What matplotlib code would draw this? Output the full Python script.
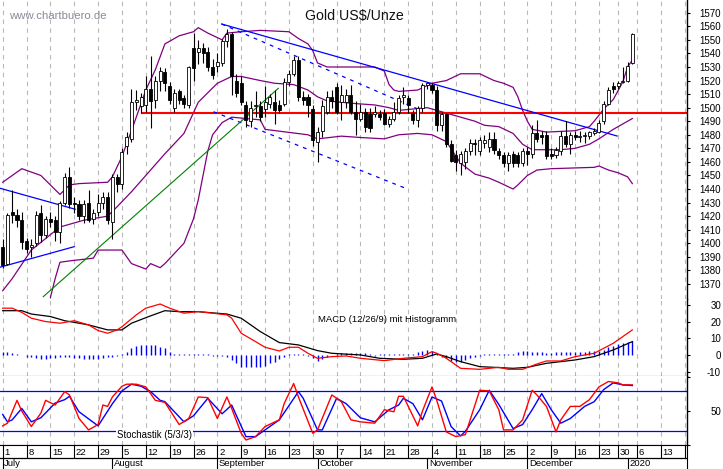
import numpy as np
import pandas as pd
import matplotlib

matplotlib.use("Agg")
import matplotlib.pyplot as plt

plt.rcParams["font.family"] = ["Liberation Sans", "DejaVu Sans"]

W, H = 723, 469
PURPLE = "#800080"
GRID_COLOR = "#b8b8b8"

# trading days shown (Dec 25 and Jan 1 are missing on the chart)
dates = pd.bdate_range("2019-07-01", "2020-01-03")
dates = dates.drop([pd.Timestamp("2019-12-25"), pd.Timestamp("2020-01-01")])

opens = [1397, 1385, 1423, 1421, 1417, 1402, 1397, 1400, 1422, 1406,
         1418, 1417, 1408, 1430, 1449, 1430, 1429, 1420, 1430, 1418,
         1423, 1430, 1434, 1416, 1449, 1444, 1472, 1477, 1504, 1501,
         1502, 1514, 1506, 1520, 1526, 1516, 1500, 1512, 1507, 1502,
         1544, 1541, 1544, 1541, 1530, 1531, 1533, 1549, 1554, 1520,
         1518, 1502, 1490, 1501, 1501, 1499, 1503, 1504, 1502, 1503,
         1519, 1525, 1535, 1508, 1508, 1499, 1475, 1483, 1497, 1508,
         1515, 1504, 1504, 1509, 1497, 1492, 1497, 1495, 1495, 1495,
         1496, 1488, 1492, 1497, 1508, 1507, 1496, 1491, 1500, 1517,
         1517, 1513, 1487, 1495, 1473, 1465, 1459, 1460, 1468, 1474,
         1468, 1474, 1471, 1477, 1468, 1465, 1459, 1466, 1465, 1459,
         1468, 1466, 1481, 1480, 1480, 1466, 1465, 1468, 1479, 1473,
         1480, 1478, 1479, 1479, 1481, 1482, 1490, 1503, 1516, 1516,
         1519, 1520, 1533]
highs = [1403, 1422, 1439, 1425, 1423, 1404, 1403, 1424, 1428, 1420,
         1423, 1420, 1431, 1452, 1456, 1434, 1432, 1432, 1439, 1425,
         1436, 1438, 1438, 1451, 1451, 1470, 1482, 1514, 1513, 1511,
         1523, 1538, 1523, 1530, 1529, 1519, 1514, 1514, 1509, 1531,
         1555, 1550, 1548, 1545, 1536, 1540, 1551, 1558, 1556, 1525,
         1523, 1505, 1505, 1512, 1505, 1516, 1510, 1513, 1506, 1522,
         1528, 1538, 1538, 1512, 1510, 1502, 1486, 1506, 1512, 1513,
         1518, 1517, 1514, 1517, 1505, 1503, 1500, 1500, 1501, 1498,
         1499, 1494, 1504, 1509, 1515, 1509, 1498, 1501, 1518, 1519,
         1518, 1516, 1497, 1496, 1476, 1469, 1468, 1470, 1477, 1477,
         1478, 1480, 1482, 1482, 1470, 1467, 1467, 1468, 1467, 1470,
         1471, 1487, 1491, 1483, 1483, 1470, 1471, 1483, 1490, 1482,
         1483, 1483, 1482, 1483, 1485, 1491, 1505, 1515, 1519, 1520,
         1530, 1534, 1555]
lows = [1382, 1384, 1415, 1412, 1396, 1393, 1390, 1398, 1401, 1404,
        1412, 1402, 1400, 1428, 1426, 1422, 1417, 1415, 1416, 1414,
        1420, 1425, 1414, 1403, 1438, 1440, 1466, 1475, 1498, 1496,
        1497, 1485, 1500, 1512, 1512, 1503, 1497, 1503, 1500, 1500,
        1520, 1532, 1533, 1527, 1521, 1526, 1531, 1545, 1509, 1508,
        1502, 1486, 1486, 1493, 1490, 1493, 1500, 1488, 1496, 1501,
        1516, 1523, 1505, 1502, 1493, 1472, 1460, 1478, 1495, 1500,
        1495, 1491, 1500, 1495, 1480, 1490, 1482, 1482, 1493, 1491,
        1487, 1486, 1490, 1495, 1503, 1496, 1488, 1486, 1497, 1514,
        1511, 1483, 1483, 1471, 1460, 1453, 1450, 1455, 1465, 1465,
        1465, 1470, 1467, 1466, 1462, 1456, 1453, 1456, 1456, 1457,
        1458, 1463, 1475, 1473, 1462, 1462, 1463, 1465, 1471, 1466,
        1476, 1475, 1474, 1477, 1480, 1481, 1488, 1502, 1511, 1514,
        1518, 1519, 1532]
closes = [1384, 1421, 1421, 1417, 1401, 1396, 1399, 1421, 1406, 1418,
          1416, 1408, 1430, 1449, 1429, 1429, 1420, 1429, 1417, 1422,
          1430, 1434, 1417, 1449, 1444, 1467, 1478, 1504, 1506, 1508,
          1514, 1505, 1520, 1527, 1518, 1506, 1511, 1506, 1503, 1530,
          1529, 1544, 1540, 1530, 1524, 1534, 1549, 1554, 1523, 1511,
          1504, 1491, 1500, 1502, 1493, 1504, 1508, 1498, 1498, 1519,
          1525, 1535, 1508, 1506, 1502, 1476, 1482, 1501, 1508, 1505,
          1497, 1509, 1509, 1497, 1492, 1497, 1486, 1485, 1497, 1493,
          1488, 1492, 1497, 1507, 1509, 1502, 1491, 1500, 1517, 1518,
          1513, 1487, 1495, 1473, 1461, 1460, 1466, 1468, 1474, 1473,
          1476, 1476, 1477, 1469, 1465, 1459, 1465, 1459, 1459, 1468,
          1466, 1481, 1477, 1478, 1464, 1464, 1469, 1479, 1473, 1480,
          1478, 1479, 1480, 1482, 1483, 1489, 1503, 1513, 1514, 1518,
          1520, 1531, 1554]

# Bollinger bands, read at day indices
bb_upper_day = [0, 4, 8, 10, 12, 14, 16, 22, 23, 25, 27, 30, 32, 34, 37, 40, 41, 43,
                46, 47, 50, 54, 60, 62, 64, 65, 66, 68, 78, 80, 81, 82, 83, 87, 90, 93,
                96, 100, 103, 105, 107, 108, 109, 110, 111, 114, 120, 123, 124, 126,
                128, 130, 131, 132]
bb_upper = [1445, 1455, 1450, 1443, 1436, 1443, 1444, 1445, 1449, 1464, 1483, 1513,
            1528, 1547, 1553, 1556, 1559, 1555, 1550, 1555, 1556, 1557, 1556, 1551,
            1547, 1542, 1533, 1530, 1530, 1527, 1517, 1513, 1512, 1513, 1518, 1520,
            1525, 1525, 1520, 1518, 1515, 1508, 1498, 1490, 1484, 1482, 1483, 1486,
            1490, 1499, 1506, 1519, 1530, 1535]
bb_mid_day = [0, 2, 6, 12, 17, 22, 24, 27, 31, 34, 38, 41, 45, 48, 50, 54, 57, 61, 64,
              66, 68, 74, 78, 81, 83, 86, 89, 92, 96, 99, 101, 104, 107, 109, 111, 117,
              120, 123, 125, 128, 132]
bb_mid = [1365, 1374, 1395, 1412, 1417, 1420, 1427, 1438, 1454, 1466, 1481, 1504,
          1518, 1523, 1523, 1520, 1518, 1517, 1513, 1508, 1505, 1503, 1502, 1500,
          1498, 1499, 1500, 1497, 1493, 1490, 1487, 1486, 1481, 1473, 1469, 1469,
          1470, 1473, 1477, 1484, 1492]
bb_lower_day = [10, 11, 12, 14, 19, 20, 25, 27, 30, 31, 33, 34, 38, 40, 41, 42, 43, 44,
                46, 48, 54, 55, 64, 66, 71, 75, 80, 83, 87, 90, 93, 96, 99, 102, 104,
                107, 108, 110, 112, 115, 124, 125, 127, 129, 131, 132]
bb_lower = [1360, 1374, 1386, 1387, 1389, 1395, 1395, 1385, 1381, 1385, 1382, 1385,
            1400, 1418, 1432, 1450, 1468, 1480, 1489, 1493, 1491, 1484, 1480, 1477,
            1479, 1478, 1477, 1480, 1481, 1480, 1475, 1459, 1451, 1448, 1445, 1440,
            1443, 1450, 1454, 1455, 1456, 1457, 1454, 1452, 1449, 1444]

# hand drawn lines: (day, price) at both ends
trend_solid = [((-0.6, 1440.6), (15.2, 1425.1)),
               ((-0.6, 1382.3), (15.0, 1397.5)),
               ((45.9, 1561.7), (128.8, 1479.1))]
trend_dashed = [((45.9, 1561.7), (87.5, 1498.3)),
                ((44.2, 1497.0), (85.0, 1439.8))]
trend_green = ((8.5, 1360.6), (57.8, 1514.3))
resistance = 1496.3
resistance_from = 29

# MACD (12/26/9)
macd_day = [0, 2, 4, 6, 9, 12, 15, 18, 20, 22, 24, 25, 28, 30, 33, 35, 38, 41, 44, 47,
            48, 50, 53, 55, 58, 60, 62, 64, 66, 69, 72, 75, 80, 84, 88, 90, 91, 93, 96,
            100, 104, 106, 109, 112, 114, 117, 120, 124, 126, 128, 130, 132]
macd = [28, 28, 25.5, 22, 20, 19, 20.5, 18, 14.6, 13, 15, 16.9, 24, 28, 30.5, 28, 25,
        26, 25, 24, 22, 13, 8, 4.6, 2.4, 4.6, 4.6, 1, -2, -1, -0.6, -2, -3.4, -2, -1, 2,
        1, -2, -8, -8.6, -7.4, -8.6, -8.6, -5.4, -3.6, -3.6, -1, 1, 4, 7, 11, 15]
signal_day = [0, 4, 6, 10, 13, 18, 22, 25, 27, 31, 34, 37, 41, 47, 50, 54, 58, 62, 66,
              69, 75, 79, 84, 88, 91, 93, 96, 100, 103, 107, 110, 114, 120, 124, 128, 132]
signal = [26.5, 26.5, 24.5, 23, 20.5, 18, 15, 15, 19, 23.4, 26.5, 25.9, 25.9, 24.5, 22,
          14, 7.4, 6, 2.6, 1, 0, -2, -2.6, -2, 0.6, -1, -4, -7, -7.4, -8, -7.4, -5, -3,
          -1, 3, 8]
histogram = [1.5, 1.5, 1.2, 0.8, 0, -1, -1.5, -2, -2.5, -2.5,
             -2, -2, -1.5, -1, -1.5, -2, -2, -2.5, -2.5, -2.5,
             -2.5, -2, -1.5, -1, -0.5, 0.5, 2, 4, 5.5, 6,
             6, 6, 6, 5, 4, 2, 0.5, 0.3, 0.3, 0.3,
             0.3, 0.3, 0.3, 0.3, -0.5, -0.5, -0.8, -1, -3, -5,
             -7, -7.5, -7.5, -7.5, -7, -6.5, -5, -4, -2.5, -1,
             0.3, 0.3, 0.3, 0.3, -0.5, -2, -3.5, -2.5, -1, -0.3,
             0.5, 1, 1, 1, 1, 1, 1, 0.5, -0.5, 0.3,
             0.5, 0.5, 0.6, 0.6, 0.6, 0.6, 0.6, 1.5, 2.5, 3,
             2.5, 0.5, -1, -2, -3.5, -4, -4, -3, -2, -1,
             -0.5, 0.3, 0.3, 0.3, 0.3, 0.3, 0.3, 0.5, 1.5, 2.3,
             2.3, 2, 1.5, 1.5, 1.3, 1.3, 1.5, 1.5, 1.5, 2,
             2, 2, 2, 2.2, 2.5, 2.5, 3, 4.5, 5.5, 6.5,
             7.2, 7.8, 8.5]

# Stochastik (5/3/3)
stoch_k_day = [0, 1, 3, 4, 6, 8, 9, 11, 13, 14, 16, 18, 20, 21, 22, 23, 25, 26, 28, 30,
               32, 34, 36, 37, 39, 41, 43, 45, 47, 48, 50, 51, 53, 55, 58, 59, 61, 62,
               65, 66, 69, 71, 73, 75, 78, 80, 82, 83, 84, 87, 88, 90, 91, 93, 95, 97,
               98, 100, 102, 104, 105, 107, 109, 111, 112, 114, 116, 117, 119, 121,
               123, 125, 127, 129, 130, 132]
stoch_k = [28, 32, 66, 50, 27, 47, 66, 59, 79, 74, 39, 22, 30, 59, 57, 71, 87, 90, 90,
           86, 66, 63, 41, 30, 39, 71, 70, 39, 71, 54, 17, 7, 12, 27, 37, 61, 91, 71, 17,
           22, 74, 64, 37, 34, 32, 52, 49, 72, 72, 28, 50, 86, 66, 19, 12, 15, 37, 81,
           80, 52, 22, 22, 37, 81, 74, 57, 19, 37, 57, 57, 67, 86, 94, 92, 89, 89]
stoch_d_day = [0, 1, 2, 4, 6, 8, 11, 13, 14, 16, 20, 21, 23, 25, 27, 29, 31, 33, 34, 38,
               40, 43, 46, 48, 51, 53, 55, 58, 62, 63, 66, 67, 70, 72, 75, 78, 81, 83,
               84, 86, 88, 90, 92, 94, 96, 97, 100, 102, 104, 107, 109, 111, 113, 115,
               117, 119, 122, 124, 126, 128, 130, 132]
stoch_d = [45, 34, 37, 54, 34, 40, 62, 67, 72, 49, 28, 39, 61, 80, 90, 87, 79, 66, 64,
           34, 43, 69, 46, 59, 12, 12, 22, 37, 79, 69, 22, 22, 69, 61, 40, 34, 52, 59,
           69, 61, 37, 71, 65, 27, 13, 20, 52, 81, 60, 24, 30, 52, 76, 52, 32, 39, 57,
           64, 82, 92, 89, 88]

price_ticks = list(range(1370, 1571, 10))
macd_ticks = [-10, 0, 10, 20, 30]
month_names = {1: "2020", 7: "July", 8: "August", 9: "September",
               10: "October", 11: "November", 12: "December"}


def _px_axes(fig, top, bottom, right=687):
    return fig.add_axes([0, 1 - bottom / H, right / W, (bottom - top) / H])


def _style_panel(ax, xlim):
    ax.set_xlim(*xlim)
    for side in ("left", "top", "bottom"):
        ax.spines[side].set_visible(False)
    ax.spines["right"].set_linewidth(1.0)
    ax.set_xticks([])
    ax.yaxis.tick_right()
    ax.tick_params(axis="y", direction="out", length=2.5, width=0.8,
                   pad=22.0, labelsize=7, colors="black")


def _right_labels(ax, ticks, labels):
    ax.set_yticks(ticks, labels)
    for lbl in ax.get_yticklabels():
        lbl.set_horizontalalignment("right")


def _week_grid(ax, pos, lo, hi):
    ax.vlines(pos, lo, hi, colors=GRID_COLOR, linestyles=(0, (4, 4)), lw=0.8, zorder=0)


x = np.arange(len(dates))
o = np.asarray(opens, float)
h = np.asarray(highs, float)
l = np.asarray(lows, float)
c = np.asarray(closes, float)

# week grid at Mondays, extended past the last trading day
mondays = pd.date_range("2019-07-01", "2020-01-20", freq="W-MON")
date_list = list(dates)
week_pos = []
for m in mondays:
    if m in date_list:
        week_pos.append(date_list.index(m))
    else:
        week_pos.append(len(dates) - 1 + np.busday_count(dates[-1].date(), m.date()))
month_pos = []
month_lbl = []
for i, d in enumerate(dates):
    if i == 0 or d.month != dates[i - 1].month:
        month_pos.append(i)
        month_lbl.append(month_names[d.month])

slot = 4.77
xlim = (-2.7 / slot, (687 - 2.7) / slot)

fig = plt.figure(figsize=(W / 100, H / 100), dpi=100)
ax_p = _px_axes(fig, 0, 299)
ax_m = _px_axes(fig, 299, 376)
ax_s = _px_axes(fig, 376, 445)
ax_d = _px_axes(fig, 445, 469)

# --- price panel
_style_panel(ax_p, xlim)
ax_p.set_ylim(1358.9, 1579.4)
_right_labels(ax_p, price_ticks, [str(t) for t in price_ticks])
_week_grid(ax_p, week_pos, 1358.9, 1579.4)

ax_p.plot(bb_upper_day, bb_upper, color=PURPLE, lw=0.9, zorder=2)
ax_p.plot(bb_mid_day, bb_mid, color=PURPLE, lw=0.9, zorder=2)
ax_p.plot(bb_lower_day, bb_lower, color=PURPLE, lw=0.9, zorder=2)

ax_p.hlines(resistance, resistance_from, xlim[1], colors="#ff0000", lw=1.5, zorder=2)
for (x0, y0), (x1, y1) in trend_solid:
    ax_p.plot([x0, x1], [y0, y1], color="#0000ff", lw=0.9, zorder=2)
for (x0, y0), (x1, y1) in trend_dashed:
    ax_p.plot([x0, x1], [y0, y1], color="#0000ff", lw=0.9, ls=(0, (3, 4)), zorder=2)
(gx0, gy0), (gx1, gy1) = trend_green
ax_p.plot([gx0, gx1], [gy0, gy1], color="#008000", lw=0.8, zorder=2)

up = c >= o
ax_p.vlines(x, l, h, colors="black", lw=0.8, zorder=3)
body = np.maximum(np.abs(c - o), 0.5)
ax_p.bar(x, body, bottom=np.minimum(o, c), width=0.64,
         color=np.where(up, "white", "black"), edgecolor="black", lw=0.6, zorder=4)

fig.text(9 / W, 1 - 16 / H, "www.chartbuero.de", fontsize=8.2, color="#8a8a98",
         ha="left", va="center")
fig.text(354 / W, 1 - 16 / H, "Gold US$/Unze", fontsize=10.2, color="#111111",
         ha="center", va="center")

# --- MACD panel
_style_panel(ax_m, xlim)
ax_m.spines["bottom"].set_visible(True)
ax_m.set_ylim(-12.6, 33.5)
_right_labels(ax_m, macd_ticks, [str(t) for t in macd_ticks])
_week_grid(ax_m, week_pos, -12.6, 33.5)
ax_m.vlines(x, 0, histogram, colors="#0000ff", lw=1.0, zorder=2)
ax_m.plot(signal_day, signal, color="black", lw=0.9, zorder=3)
ax_m.plot(macd_day, macd, color="#ff0000", lw=0.9, zorder=3)
ax_m.text(66.0, 21.5, "MACD (12/26/9) mit Histogramm", fontsize=6.8, ha="left",
          va="center")

# --- stochastic panel
_style_panel(ax_s, xlim)
ax_s.spines["bottom"].set_visible(True)
ax_s.set_ylim(-0.45, 102.2)
_right_labels(ax_s, [0, 50, 100], ["", "50", ""])
_week_grid(ax_s, week_pos, -0.45, 102.2)
ax_s.axhline(80, color="#0000ff", lw=0.9, zorder=1)
ax_s.axhline(20, color="#0000ff", lw=0.9, zorder=1)
ax_s.plot(stoch_d_day, stoch_d, color="#0000ff", lw=1.0, zorder=3)
ax_s.plot(stoch_k_day, stoch_k, color="#ff0000", lw=1.0, zorder=3)
ax_s.text(24.0, 14.5, "Stochastik (5/3/3)", fontsize=6.9, ha="left", va="center",
          zorder=4, bbox=dict(facecolor="white", edgecolor="none", pad=0.8))

# --- date band
ax_d.set_xlim(*xlim)
ax_d.set_ylim(24, 0)
for side in ("left", "bottom"):
    ax_d.spines[side].set_visible(False)
ax_d.set_xticks([])
ax_d.set_yticks([])
ax_d.axhline(13, color="black", lw=0.9)
ax_d.vlines(week_pos, 0, 13, colors="black", lw=0.8)
ax_d.vlines(month_pos, 13, 24, colors="black", lw=0.8)
for pos, m in zip(week_pos, mondays):
    ax_d.text(pos + 0.35, 7.4, str(m.day), fontsize=6.8, ha="left", va="center",
              clip_on=True)
for pos, name in zip(month_pos, month_lbl):
    ax_d.text(pos + 0.35, 18.8, name, fontsize=6.8, ha="left", va="center",
              clip_on=True)

fig.savefig("out.png", dpi=100)
plt.close(fig)
